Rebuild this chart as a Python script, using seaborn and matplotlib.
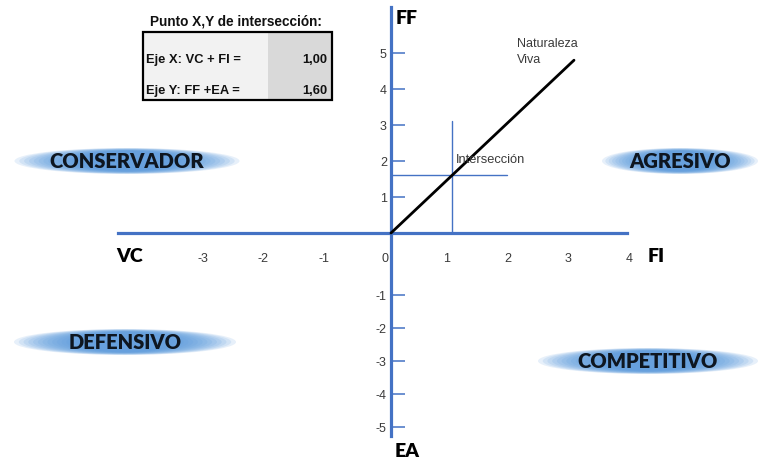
import matplotlib
matplotlib.use("Agg")
import matplotlib.pyplot as plt
import matplotlib.transforms as mtransforms
from matplotlib.patches import Ellipse, Rectangle
import numpy as np
import pandas as pd
import seaborn as sns

# data
X_TICKS = [-3, -2, -1, 0, 1, 2, 3, 4]
Y_TICKS = [-5, -4, -3, -2, -1, 1, 2, 3, 4, 5]
NAT_X = [0, 3]
NAT_Y = [0, 4.8]
INT_X = 1.0
INT_Y = 1.6
CROSS_V = [0, 3.1]      # vertical reference line extent (y)
CROSS_H = [0, 1.9]      # horizontal reference line extent (x)
QUADRANTS = ["CONSERVADOR", "AGRESIVO", "DEFENSIVO", "COMPETITIVO"]
AXIS_NAMES = ["FF", "EA", "VC", "FI"]
TABLE_ROWS = ["Eje X: VC + FI =", "Eje Y: FF +EA ="]
TABLE_VALS = ["1,00", "1,60"]

BLUE = "#4472C4"
GLOW = "#5596DC"
TXT = "#3A3A3A"

# pixel layout (figure is 759x464 px)
W, H = 759, 464
OX, OY = 391, 234
PX_X = 61.0


# the original sheet spaces the lower half of the y axis differently
def y_fwd(y):
    y = np.asarray(y, dtype=float)
    return np.where(y >= 0, y * 36.0, np.where(y >= -1, y * 62.0, -62.0 + (y + 1) * 33.0))


def y_inv(p):
    p = np.asarray(p, dtype=float)
    return np.where(p >= 0, p / 36.0, np.where(p >= -62, p / 62.0, (p + 62.0) / 33.0 - 1))


def dx(px):
    return (px - OX) / PX_X


def dy(py):
    return float(y_inv(OY - py))


def fx(px):
    return px / W


def fy(py):
    return 1 - py / H


sns.set_style("white")
plt.rcParams["font.family"] = ["Liberation Sans", "DejaVu Sans"]
plt.rcParams["axes.unicode_minus"] = False

fig = plt.figure(figsize=(W / 100, H / 100), dpi=100)
ax = fig.add_axes([0, 0, 1, 1])
ax.set_yscale("function", functions=(y_fwd, y_inv))
ax.set_xlim(dx(0), dx(W))
ax.set_ylim(dy(H), dy(0))

# axes through origin
for s in ("top", "right"):
    ax.spines[s].set_visible(False)
ax.spines["left"].set_position(("data", 0))
ax.spines["bottom"].set_position(("data", 0))
ax.spines["left"].set_bounds(dy(437), dy(8))
ax.spines["bottom"].set_bounds(dx(118), dx(627))
for s in ("left", "bottom"):
    ax.spines[s].set_color(BLUE)
    ax.spines[s].set_linewidth(2.3)
    ax.spines[s].set_zorder(3)

ax.set_xticks(X_TICKS)
ax.set_yticks(Y_TICKS)
ax.set_yticklabels([str(v) for v in Y_TICKS])
ax.minorticks_off()
ax.tick_params(axis="x", bottom=True, length=0, pad=14, labelsize=9, labelcolor=TXT)
ax.tick_params(axis="y", left=True, direction="in", length=10, width=1.1, color=BLUE,
               pad=3, labelsize=9, labelcolor=TXT)
# labels sit a little left of their positions on the original
for lab in ax.get_xticklabels():
    lab.set_transform(lab.get_transform() +
                      mtransforms.ScaledTranslation(-4 / 72, 0, fig.dpi_scale_trans))
ax.grid(False)

# Naturaleza Viva line
nat = pd.DataFrame({"x": NAT_X, "y": NAT_Y})
sns.lineplot(data=nat, x="x", y="y", color="black", linewidth=2.0, ax=ax, zorder=4)
ax.set_xlabel("")
ax.set_ylabel("")

# intersection cross
ax.plot([INT_X, INT_X], CROSS_V, color=BLUE, linewidth=1.0, zorder=2)
ax.plot(CROSS_H, [INT_Y, INT_Y], color=BLUE, linewidth=1.0, zorder=2)
ax.text(INT_X + 0.06, INT_Y + 0.45, "Intersección", fontsize=9.3,
        color=TXT, ha="left", va="center", zorder=5)
ax.text(fx(517), fy(52), "Naturaleza\nViva", fontsize=9, color=TXT,
        ha="left", va="center", linespacing=1.35, transform=ax.transAxes)

# axis names
bold = dict(fontweight="heavy", family=["Lato", "DejaVu Sans"], color="black",
            transform=ax.transAxes)
ax.text(fx(396), fy(18), AXIS_NAMES[0], fontsize=14, ha="left", va="center", **bold)
ax.text(fx(407), fy(452), AXIS_NAMES[1], fontsize=14, ha="center", va="center", **bold)
ax.text(fx(130), fy(256), AXIS_NAMES[2], fontsize=14, ha="center", va="center", **bold)
ax.text(fx(656), fy(256), AXIS_NAMES[3], fontsize=14, ha="center", va="center", **bold)

# quadrant labels with blurred ellipses
quad_pos = [(127, 162, 225), (680, 162, 156), (125, 343, 222), (648, 362, 220)]
for name, (cx, cy, wpx) in zip(QUADRANTS, quad_pos):
    n = 14
    for i in range(n):
        s = 1.0 - 0.6 * i / n
        ax.add_patch(Ellipse((fx(cx), fy(cy)), wpx * s / W, 26 * (0.6 + 0.4 * s) / H,
                             transform=ax.transAxes, facecolor=GLOW,
                             edgecolor="none", alpha=0.14, zorder=1))
    ax.text(fx(cx), fy(cy), name, fontsize=14.5, ha="center", va="center",
            zorder=5, **{**bold, "color": "#0E1620"})

# intersection table (figure coords)
fig.text(fx(150), fy(22), "Punto X,Y de intersección:", fontsize=9.8,
         fontweight="bold", ha="left", va="center", color="#111111")
fig.patches.append(Rectangle((fx(143), fy(101)), fx(332) - fx(143), fy(33) - fy(101),
                             transform=fig.transFigure, facecolor="#F2F2F2",
                             edgecolor="none", zorder=1))
fig.patches.append(Rectangle((fx(268), fy(101)), fx(331) - fx(268), fy(34) - fy(101),
                             transform=fig.transFigure, facecolor="#D9D9D9",
                             edgecolor="none", zorder=1))
fig.patches.append(Rectangle((fx(143), fy(101)), fx(332) - fx(143), fy(33) - fy(101),
                             transform=fig.transFigure, facecolor="none",
                             edgecolor="black", linewidth=1.6, zorder=2))
for row, val, py in zip(TABLE_ROWS, TABLE_VALS, [60, 91]):
    fig.text(fx(146), fy(py), row, fontsize=9.3, fontweight="bold", ha="left",
             va="center", color="#111111")
    fig.text(fx(327), fy(py), val, fontsize=9.3, fontweight="bold", ha="right",
             va="center", color="#111111")

fig.savefig("out.png", dpi=100)
